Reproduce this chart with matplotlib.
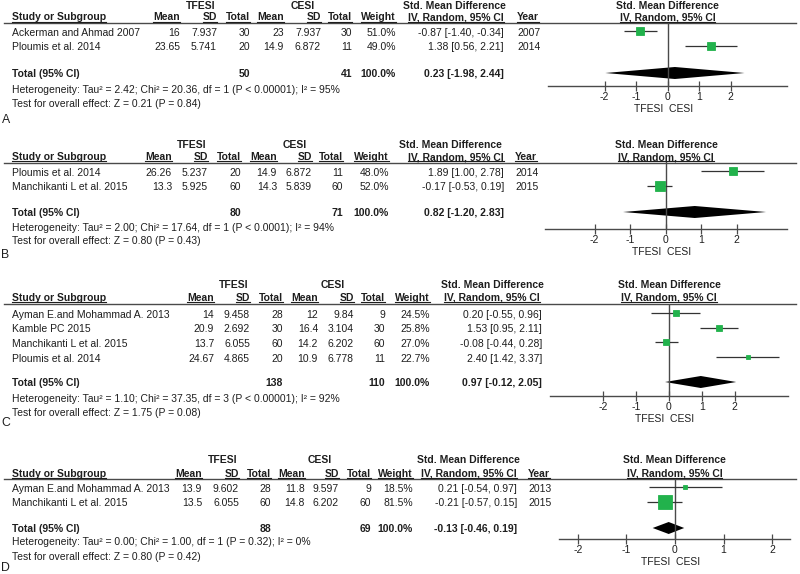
import matplotlib.pyplot as plt
from matplotlib.patches import Polygon

plt.rcParams['font.family'] = ['Liberation Sans', 'DejaVu Sans']
plt.rcParams['axes.unicode_minus'] = False

# panel A
studies_a = ['Ackerman and Ahmad 2007', 'Ploumis et al. 2014']
tf_mean_a = [16, 23.65]
tf_sd_a = [7.937, 5.741]
tf_n_a = [30, 20]
ce_mean_a = [23, 14.9]
ce_sd_a = [7.937, 6.872]
ce_n_a = [30, 11]
weight_a = [51.0, 49.0]
smd_a = [-0.87, 1.38]
lo_a = [-1.40, 0.56]
hi_a = [-0.34, 2.21]
year_a = [2007, 2014]
pooled_a = [0.23, -1.98, 2.44]
het_a = 'Heterogeneity: Tau² = 2.42; Chi² = 20.36, df = 1 (P < 0.00001); I² = 95%'
test_a = 'Test for overall effect: Z = 0.21 (P = 0.84)'

# panel B
studies_b = ['Ploumis et al. 2014', 'Manchikanti L et al. 2015']
tf_mean_b = [26.26, 13.3]
tf_sd_b = [5.237, 5.925]
tf_n_b = [20, 60]
ce_mean_b = [14.9, 14.3]
ce_sd_b = [6.872, 5.839]
ce_n_b = [11, 60]
weight_b = [48.0, 52.0]
smd_b = [1.89, -0.17]
lo_b = [1.00, -0.53]
hi_b = [2.78, 0.19]
year_b = [2014, 2015]
pooled_b = [0.82, -1.20, 2.83]
het_b = 'Heterogeneity: Tau² = 2.00; Chi² = 17.64, df = 1 (P < 0.0001); I² = 94%'
test_b = 'Test for overall effect: Z = 0.80 (P = 0.43)'

# panel C
studies_c = ['Ayman E.and Mohammad A. 2013', 'Kamble PC 2015',
             'Manchikanti L et al. 2015', 'Ploumis et al. 2014']
tf_mean_c = [14, 20.9, 13.7, 24.67]
tf_sd_c = [9.458, 2.692, 6.055, 4.865]
tf_n_c = [28, 30, 60, 20]
ce_mean_c = [12, 16.4, 14.2, 10.9]
ce_sd_c = [9.84, 3.104, 6.202, 6.778]
ce_n_c = [9, 30, 60, 11]
weight_c = [24.5, 25.8, 27.0, 22.7]
smd_c = [0.20, 1.53, -0.08, 2.40]
lo_c = [-0.55, 0.95, -0.44, 1.42]
hi_c = [0.96, 2.11, 0.28, 3.37]
year_c = None
pooled_c = [0.97, -0.12, 2.05]
het_c = 'Heterogeneity: Tau² = 1.10; Chi² = 37.35, df = 3 (P < 0.00001); I² = 92%'
test_c = 'Test for overall effect: Z = 1.75 (P = 0.08)'

# panel D
studies_d = ['Ayman E.and Mohammad A. 2013', 'Manchikanti L et al. 2015']
tf_mean_d = [13.9, 13.5]
tf_sd_d = [9.602, 6.055]
tf_n_d = [28, 60]
ce_mean_d = [11.8, 14.8]
ce_sd_d = [9.597, 6.202]
ce_n_d = [9, 60]
weight_d = [18.5, 81.5]
smd_d = [0.21, -0.21]
lo_d = [-0.54, -0.57]
hi_d = [0.97, 0.15]
year_d = [2013, 2015]
pooled_d = [-0.13, -0.46, 0.19]
het_d = 'Heterogeneity: Tau² = 0.00; Chi² = 1.00, df = 1 (P = 0.32); I² = 0%'
test_d = 'Test for overall effect: Z = 0.80 (P = 0.42)'

panels = [
    dict(label='A', studies=studies_a, tfm=tf_mean_a, tfs=tf_sd_a, tfn=tf_n_a, cem=ce_mean_a, ces=ce_sd_a, cen=ce_n_a,
         w=weight_a, smd=smd_a, lo=lo_a, hi=hi_a, year=year_a, pooled=pooled_a, het=het_a, test=test_a),
    dict(label='B', studies=studies_b, tfm=tf_mean_b, tfs=tf_sd_b, tfn=tf_n_b, cem=ce_mean_b, ces=ce_sd_b, cen=ce_n_b,
         w=weight_b, smd=smd_b, lo=lo_b, hi=hi_b, year=year_b, pooled=pooled_b, het=het_b, test=test_b),
    dict(label='C', studies=studies_c, tfm=tf_mean_c, tfs=tf_sd_c, tfn=tf_n_c, cem=ce_mean_c, ces=ce_sd_c, cen=ce_n_c,
         w=weight_c, smd=smd_c, lo=lo_c, hi=hi_c, year=year_c, pooled=pooled_c, het=het_c, test=test_c),
    dict(label='D', studies=studies_d, tfm=tf_mean_d, tfs=tf_sd_d, tfn=tf_n_d, cem=ce_mean_d, ces=ce_sd_d, cen=ce_n_d,
         w=weight_d, smd=smd_d, lo=lo_d, hi=hi_d, year=year_d, pooled=pooled_d, het=het_d, test=test_d),
]

# pixel layout of each panel
layouts = [
    dict(top=6, head=17.5, line=23, row0=33, total=74, het=90, test=104, letter=120,
         cols=[180, 217, 250, 284, 321, 352, 396, 504], year=517, tf=201, ce=303, smd=454,
         fx=(548, 787), xl=(-3.8, 3.79), axis=86),
    dict(top=145, head=157, line=162.5, row0=173, total=213, het=228, test=241, letter=255,
         cols=[172, 208, 241, 277, 312, 343, 389, 504], year=515, tf=192, ce=295, smd=450,
         fx=(545, 787), xl=(-3.4, 3.42), axis=229),
    dict(top=285, head=298, line=303.5, row0=315, total=383, het=399, test=413, letter=423,
         cols=[214, 250, 283, 318, 354, 385, 430, 542], year=None, tf=234, ce=333, smd=492,
         fx=(550, 788), xl=(-3.63, 3.63), axis=396),
    dict(top=460, head=474, line=479, row0=489, total=529, het=542, test=557, letter=568,
         cols=[202, 239, 271, 305, 339, 371, 413, 517], year=528, tf=223, ce=320, smd=468,
         fx=(559, 790), xl=(-2.39, 2.37), axis=539),
]

TXT = '#1e1e1e'
LINE = '#4a4a4a'
GREEN = '#22b24c'
FS = 7.5
ROW_H = 14.5
W, H = 800, 574

fig = plt.figure(figsize=(W / 100, H / 100), dpi=100)
bg = fig.add_axes([0, 0, 1, 1])
bg.set_xlim(0, W)
bg.set_ylim(H, 0)
bg.axis('off')


def txt(x, y, s, ha='left', bold=False, size=FS):
    return bg.text(x, y, s, ha=ha, va='center', fontsize=size, color=TXT,
                   fontweight='bold' if bold else 'normal')


underlined = []

for p, lay in zip(panels, layouts):
    c = lay['cols']
    x0, x1 = lay['fx']
    fc = (x0 + x1) / 2
    hy = lay['head']

    # headers
    txt(lay['tf'], lay['top'], 'TFESI', 'center', True)
    txt(lay['ce'], lay['top'], 'CESI', 'center', True)
    txt(lay['smd'], lay['top'], 'Std. Mean Difference', 'center', True)
    txt(fc, lay['top'], 'Std. Mean Difference', 'center', True)
    heads = [txt(12, hy, 'Study or Subgroup', 'left', True)]
    for x, s in zip(c[:7], ['Mean', 'SD', 'Total', 'Mean', 'SD', 'Total', 'Weight']):
        heads.append(txt(x, hy, s, 'right', True))
    if lay['year'] is not None:
        heads.append(txt(c[7], hy, 'IV, Random, 95% CI', 'right', True))
        heads.append(txt(lay['year'], hy, 'Year', 'left', True))
    else:
        heads.append(txt(lay['smd'], hy, 'IV, Random, 95% CI', 'center', True))
    heads.append(txt(fc, hy, 'IV, Random, 95% CI', 'center', True))
    underlined.append((heads, lay['line'] - 1.2))
    bg.plot([4, 796], [lay['line'], lay['line']], color=LINE, lw=1)

    # study rows
    rows = [lay['row0'] + i * ROW_H for i in range(len(p['studies']))]
    for i, y in enumerate(rows):
        txt(12, y, p['studies'][i])
        vals = [f"{p['tfm'][i]:g}", f"{p['tfs'][i]:g}", str(p['tfn'][i]),
                f"{p['cem'][i]:g}", f"{p['ces'][i]:g}", str(p['cen'][i]),
                f"{p['w'][i]:.1f}%",
                f"{p['smd'][i]:.2f} [{p['lo'][i]:.2f}, {p['hi'][i]:.2f}]"]
        for x, s in zip(c, vals):
            txt(x, y, s, 'right')
        if p['year'] is not None:
            txt(lay['year'], y, str(p['year'][i]))

    est, plo, phi = p['pooled']
    txt(12, lay['total'], 'Total (95% CI)', 'left', True)
    txt(c[2], lay['total'], str(sum(p['tfn'])), 'right', True)
    txt(c[5], lay['total'], str(sum(p['cen'])), 'right', True)
    txt(c[6], lay['total'], '100.0%', 'right', True)
    txt(c[7], lay['total'], f'{est:.2f} [{plo:.2f}, {phi:.2f}]', 'right', True)
    txt(12, lay['het'], p['het'])
    txt(12, lay['test'], p['test'])
    txt(1.5, lay['letter'], p['label'], size=8.8)

    # forest plot
    ax = fig.add_axes([x0 / W, 1 - lay['axis'] / H, (x1 - x0) / W, (lay['axis'] - lay['line']) / H])
    ax.set_xlim(*lay['xl'])
    ax.set_ylim(lay['axis'], lay['line'])
    ax.patch.set_alpha(0)
    for s in ['left', 'right', 'top']:
        ax.spines[s].set_visible(False)
    ax.spines['bottom'].set_color(LINE)
    ax.spines['bottom'].set_linewidth(1)
    ax.set_yticks([])
    ax.set_xticks([-2, -1, 0, 1, 2])
    ax.tick_params(axis='x', direction='inout', length=7, width=0.9, color=LINE,
                   labelsize=FS, labelcolor=TXT, pad=1)
    ax.axvline(0, color=LINE, lw=1)

    my = [y - 2 for y in rows]
    ax.hlines(my, p['lo'], p['hi'], color='#333333', lw=0.9, clip_on=False)
    for x, y, w in zip(p['smd'], my, p['w']):
        ax.plot(x, y, 's', ms=(1.8 + 0.14 * w) * 0.72, color=GREEN, mec=GREEN, mew=0.6, clip_on=False)
    dy = lay['total'] - 1
    ax.add_patch(Polygon([(plo, dy), (est, dy - 6), (phi, dy), (est, dy + 6)],
                         closed=True, color='black', lw=0, clip_on=False))
    ax.annotate('TFESI  CESI', xy=(0, 0), xycoords=('data', 'axes fraction'),
                xytext=(-3, -16.5), textcoords='offset points', ha='center', va='center',
                fontsize=FS, color=TXT)

# underline the column headers
fig.canvas.draw()
inv = bg.transData.inverted()
for heads, uy in underlined:
    for t in heads:
        bb = t.get_window_extent()
        (ux0, _), (ux1, _) = inv.transform([(bb.x0, bb.y0), (bb.x1, bb.y0)])
        bg.plot([ux0, ux1], [uy, uy], color=TXT, lw=0.8)

fig.savefig('out.png', dpi=100)
